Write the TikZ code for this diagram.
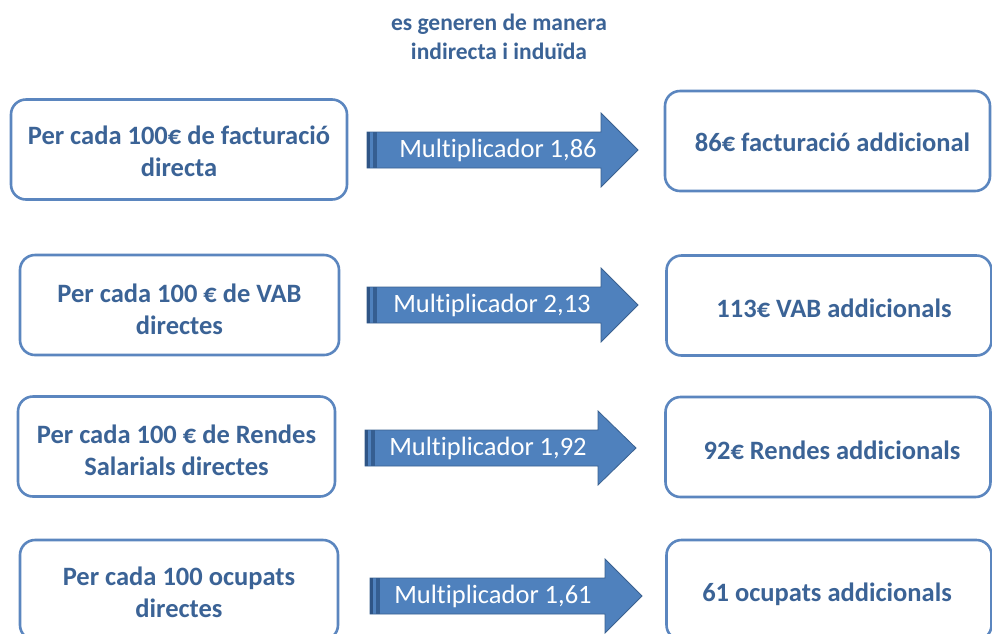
\documentclass[tikz,border=0pt]{standalone}
\usepackage{fontspec}
\setmainfont{Carlito}[Ligatures=NoCommon]
\definecolor{txtblue}{HTML}{3B6396}
\definecolor{boxblue}{HTML}{5B86BF}
\definecolor{arrfill}{HTML}{4F81BD}
\definecolor{arrdark}{HTML}{3A6190}
\definecolor{stripe}{HTML}{2F5586}
\tikzset{
  box/.style={draw=boxblue, line width=2.6pt, rounded corners=15pt, fill=white, inner sep=0pt},
  lbox/.style={box, minimum height=100pt},
  rbox/.style={box, minimum width=325pt, minimum height=100pt},
  boxtext/.style={text=txtblue, font=\fontsize{26.5}{32}\selectfont\bfseries, align=center, inner sep=0pt},
  arrtext/.style={text=white, font=\fontsize{26.5}{30}\selectfont, inner sep=0pt},
  arrbody/.style={fill=arrfill, draw=arrdark, line width=0.8pt, line join=miter},
  header/.style={text=txtblue, font=\fontsize{23.5}{29}\selectfont\bfseries, align=center}
}
\newcommand{\blockarrow}[6]{% name, x0, headstart, tip, yc, text-x
  \draw[arrbody] (#2,#5-18) -- (#3,#5-18) -- (#3,#5-37) -- (#4,#5) -- (#3,#5+37) -- (#3,#5+18) -- (#2,#5+18) -- cycle;
  \fill[stripe] (#2,#5-18) rectangle (#2+3,#5+18);
  \fill[stripe!80!arrfill] (#2+6,#5-18) rectangle (#2+10,#5+18);
  \coordinate (#1) at (#6,#5);
}
\begin{document}
\begin{tikzpicture}[x=1pt,y=-1pt]
\useasboundingbox[fill=white] (0,0) rectangle (992,633);
\begin{scope}
\clip (0,0) rectangle (992,633);

\node[header] (hdr) at (499,37) {es generen de manera\\indirecta i induïda};

% left boxes
\node[lbox, minimum width=336pt] (l1) at (179,149.5) {};
\node[lbox, minimum width=319pt] (l2) at (179.5,305) {};
\node[lbox, minimum width=317pt] (l3) at (176.5,446.5) {};
\node[lbox, minimum width=318pt] (l4) at (179,590) {};
\node[boxtext] (lt1) at ([yshift=-2pt]l1.center) {Per cada 100€ de facturació\\directa};
\node[boxtext] (lt2) at ([yshift=-4pt]l2.center) {Per cada 100 € de VAB\\directes};
\node[boxtext] (lt3) at ([yshift=-4pt]l3.center) {Per cada 100 € de Rendes\\Salarials directes};
\node[boxtext] (lt4) at ([yshift=-2pt]l4.center) {Per cada 100 ocupats\\directes};

% right boxes
\node[rbox] (r1) at (827.5,141) {};
\node[rbox] (r2) at (829,305.5) {};
\node[rbox] (r3) at (828,447) {};
\node[rbox] (r4) at (829,590) {};
\node[boxtext] (rt1) at ([xshift=5pt,yshift=-1pt]r1.center) {86€ facturació addicional};
\node[boxtext] (rt2) at ([xshift=5pt,yshift=-3pt]r2.center) {113€ VAB addicionals};
\node[boxtext] (rt3) at ([xshift=4pt,yshift=-3pt]r3.center) {92€ Rendes addicionals};
\node[boxtext] (rt4) at ([xshift=-2pt,yshift=-4pt]r4.center) {61 ocupats addicionals};

% arrows
\blockarrow{a1}{367}{601}{638}{150}{498}
\blockarrow{a2}{367}{601}{638}{305}{492}
\blockarrow{a3}{365}{598}{636}{448}{488}
\blockarrow{a4}{370}{605}{642}{596}{493}
\node[arrtext] (t1) at (a1) {Multiplicador 1,86};
\node[arrtext] (t2) at (a2) {Multiplicador 2,13};
\node[arrtext] (t3) at (a3) {Multiplicador 1,92};
\node[arrtext] (t4) at (a4) {Multiplicador 1,61};
\end{scope}
\end{tikzpicture}
\end{document}
